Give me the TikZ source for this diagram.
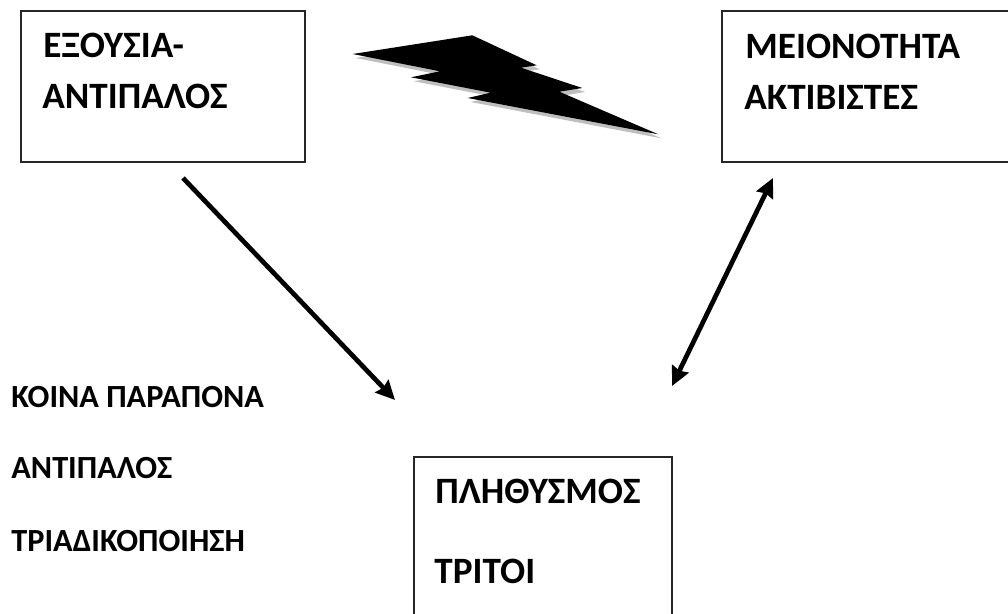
\documentclass[tikz,border=0pt]{standalone}
\usepackage{fontspec}
\setmainfont{Carlito}
\usetikzlibrary{arrows.meta}
\tikzset{
	boxline/.style={draw=black!85,line width=1.3pt},
	bigtext/.style={anchor=base west,inner sep=0pt,font=\fontsize{37.2}{37.2}\selectfont\bfseries},
	smalltext/.style={anchor=base west,inner sep=0pt,font=\fontsize{32.3}{32.3}\selectfont\bfseries},
	boltshape/.style={draw=none,fill=#1},
	fatarrow/.style={line width=4.7pt}
}
\begin{document}
\begin{tikzpicture}[thick,>={Stealth[length=19pt,width=18pt,inset=2pt]},x=1pt,y=-1pt]
	\useasboundingbox (0,0) rectangle (1008,613);
	\clip (0,0) rectangle (1008,613);
	% boxes
	\draw[boxline] (21,11) rectangle (305,162);
	\draw[boxline] (722,11) rectangle (1012,162);
	\draw[boxline] (672,620) -- (672,457) -- (414,457) -- (414,620);
	% box texts
	\node[bigtext] (power) at (43,57) {ΕΞΟΥΣΙΑ-};
	\node[bigtext] (rival) at (42,108) {ΑΝΤΙΠΑΛΟΣ};
	\node[bigtext] (minority) at (745,58) {ΜΕΙΟΝΟΤΗΤΑ};
	\node[bigtext] (activists) at (744,109) {ΑΚΤΙΒΙΣΤΕΣ};
	\node[bigtext] (people) at (435,503) {ΠΛΗΘΥΣΜΟΣ};
	\node[bigtext] (thirds) at (434,583) {ΤΡΙΤΟΙ};
	% left list
	\node[smalltext] (grievance) at (11,407) {ΚΟΙΝΑ ΠΑΡΑΠΟΝΑ};
	\node[smalltext] (opponent) at (11,478) {ΑΝΤΙΠΑΛΟΣ};
	\node[smalltext] (triad) at (11,551) {ΤΡΙΑΔΙΚΟΠΟΙΗΣΗ};
	% lightning
	\foreach \dx/\dy/\col in {3/4/black!25,0/0/black}
		\fill[boltshape=\col,shift={(\dx,\dy)}] (352.7,54) -- (472.3,35.3) -- (536.7,65.3) -- (521,67.7) -- (582.3,88) -- (559.3,91.7) -- (658.3,134.3) -- (467.7,98) -- (490.7,92.7) -- (411,77.3) -- (440,71.3) -- cycle;
	% arrows
	\coordinate (a1) at (183,178);
	\coordinate (a2) at (395,400);
	\coordinate (b1) at (672,386);
	\coordinate (b2) at (773,178);
	\draw[->,fatarrow] (a1) -- (a2);
	\draw[<->,fatarrow] (b1) -- (b2);
\end{tikzpicture}
\end{document}
